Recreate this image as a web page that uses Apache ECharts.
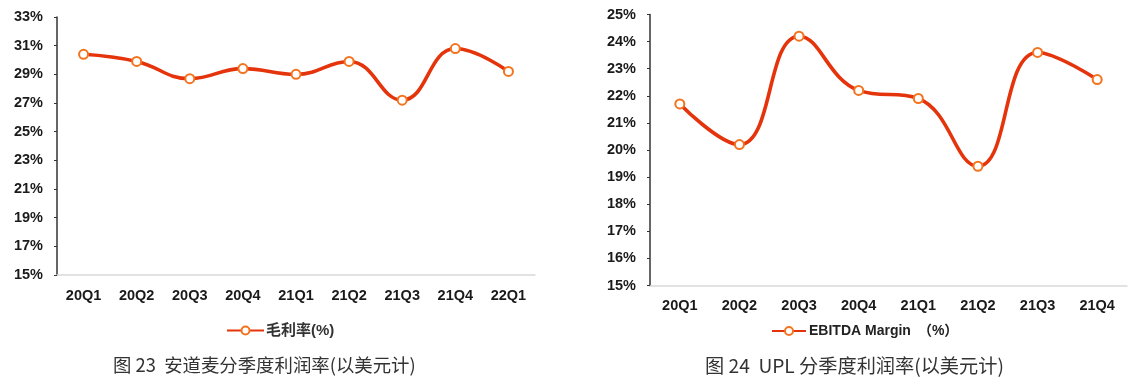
<!DOCTYPE html>
<html><head><meta charset="utf-8">
<script src="https://cdn.jsdelivr.net/npm/echarts@6/dist/echarts.min.js"></script>
<style>html,body{margin:0;padding:0;background:#fff}#c{width:1137px;height:387px}</style>
</head><body><div id="c"></div>
<script>
var catsA = ['20Q1','20Q2','20Q3','20Q4','21Q1','21Q2','21Q3','21Q4','22Q1'];
var valsA = [30.4, 29.9, 28.7, 29.4, 29.0, 29.9, 27.2, 30.8, 29.2];
var nameA = '毛利率(%)';
var captionA = '图 23  安道麦分季度利润率(以美元计)';

var catsB = ['20Q1','20Q2','20Q3','20Q4','21Q1','21Q2','21Q3','21Q4'];
var valsB = [21.7, 20.2, 24.2, 22.2, 21.9, 19.4, 23.6, 22.6];
var nameB = 'EBITDA Margin　（%）';
var captionB = '图 24  UPL 分季度利润率(以美元计)';

var font = '"Liberation Sans", Arial, "Noto Sans CJK SC", sans-serif';
var lineColor = '#E5340B';
var markColor = '#F3741F';

function yAxis(idx, min, max, step) {
  return {
    type: 'value', gridIndex: idx, min: min, max: max, interval: step,
    axisLine: {show: true, lineStyle: {color: '#333', width: 1.5}},
    axisTick: {show: true, length: 3, lineStyle: {color: '#333'}},
    splitLine: {show: false},
    axisLabel: {formatter: '{value}%', color: '#1a1a1a', fontSize: 14.5, fontWeight: 'bold', fontFamily: font, margin: 14}
  };
}
function xAxis(idx, cats, margin) {
  return {
    type: 'category', gridIndex: idx, data: cats, boundaryGap: true,
    axisLine: {show: true, lineStyle: {color: '#d9d9d9', width: 1.5}},
    axisTick: {show: false},
    axisLabel: {color: '#1a1a1a', fontSize: 14.5, fontWeight: 'bold', fontFamily: font, margin: margin}
  };
}
function series(idx, name, vals) {
  return {
    type: 'line', name: name, xAxisIndex: idx, yAxisIndex: idx, data: vals,
    smooth: 0.45, symbol: 'circle', symbolSize: 9, showAllSymbol: true,
    lineStyle: {color: lineColor, width: 3.6},
    itemStyle: {color: '#fff', borderColor: markColor, borderWidth: 2}
  };
}

var chart = echarts.init(document.getElementById('c'), null, {renderer: 'canvas'});
chart.setOption({
  animation: false,
  backgroundColor: '#fff',
  grid: [
    {left: 57, top: 17, width: 478, height: 258},
    {left: 650, top: 14.5, width: 477, height: 271}
  ],
  xAxis: [xAxis(0, catsA, 14), xAxis(1, catsB, 13)],
  yAxis: [yAxis(0, 15, 33, 2), yAxis(1, 15, 25, 1)],
  legend: [
    {data: [nameA], left: 226, top: 323, padding: 0, itemWidth: 37, itemHeight: 10, itemGap: 2,
     textStyle: {color: '#333', fontSize: 15, fontWeight: 'bold', fontFamily: font, padding: [0, 0, 0, -3]}},
    {data: [nameB], left: 771, top: 324, padding: 0, itemWidth: 34, itemHeight: 10, itemGap: 2,
     textStyle: {color: '#222', fontSize: 14, fontWeight: 'bold', fontFamily: font, padding: [0, 0, 0, -2]}}
  ],
  series: [series(0, nameA, valsA), series(1, nameB, valsB)],
  graphic: [
    {type: 'text', left: 113, top: 356, style: {text: captionA, fill: '#333', font: '18.4px "Noto Sans CJK SC", "Liberation Sans", sans-serif'}},
    {type: 'text', left: 705, top: 356, style: {text: captionB, fill: '#333', font: '19.2px "Noto Sans CJK SC", "Liberation Sans", sans-serif'}}
  ]
});
</script></body></html>
